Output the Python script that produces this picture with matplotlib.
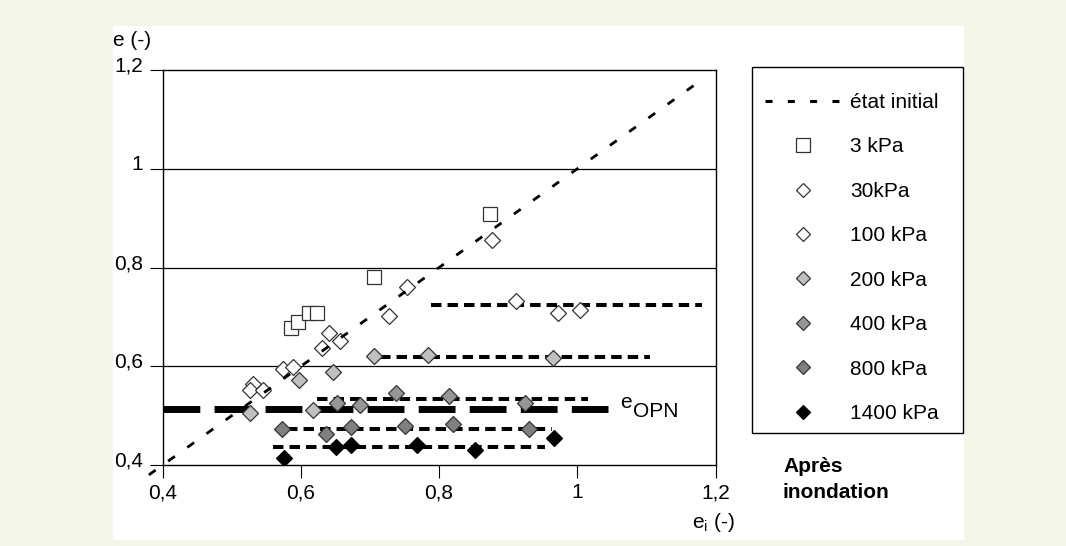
import matplotlib
matplotlib.use('Agg')
import matplotlib.pyplot as plt
from matplotlib.lines import Line2D
from matplotlib.patches import Rectangle
import matplotlib.transforms as mtransforms

plt.rcParams['font.family'] = ['Liberation Sans', 'DejaVu Sans']

W, H, DPI = 1066, 546, 100

# ---------------- data ----------------
diag_x = [0.38, 1.175]
diag_y = [0.38, 1.175]

kpa3_x = [0.586, 0.596, 0.611, 0.623, 0.706, 0.874]
kpa3_y = [0.677, 0.690, 0.708, 0.708, 0.780, 0.908]

kpa30_x = [0.877, 0.753, 0.728, 0.640, 0.657, 0.630, 0.574, 0.588, 0.531, 0.526, 0.545]
kpa30_y = [0.856, 0.761, 0.702, 0.668, 0.652, 0.636, 0.594, 0.598, 0.565, 0.552, 0.552]

kpa100_x = [0.912, 0.972, 1.004]
kpa100_y = [0.733, 0.707, 0.713]

kpa200_x = [0.706, 0.784, 0.647, 0.597, 0.526, 0.617, 0.965]
kpa200_y = [0.621, 0.623, 0.589, 0.572, 0.506, 0.511, 0.616]

kpa400_x = [0.737, 0.815, 0.652, 0.685, 0.925]
kpa400_y = [0.546, 0.540, 0.525, 0.522, 0.525]

kpa800_x = [0.572, 0.636, 0.672, 0.751, 0.820, 0.930]
kpa800_y = [0.472, 0.462, 0.476, 0.478, 0.484, 0.472]

kpa1400_x = [0.575, 0.651, 0.672, 0.768, 0.852, 0.966]
kpa1400_y = [0.414, 0.437, 0.441, 0.441, 0.430, 0.454]

avg_level = [0.724, 0.619, 0.534, 0.473, 0.436]
avg_start = [0.788, 0.714, 0.623, 0.580, 0.559]
avg_end = [1.180, 1.105, 1.015, 0.963, 0.953]

eopn_level = 0.514
eopn_start = 0.40
eopn_end = 1.045

ticks = [0.4, 0.6, 0.8, 1.0, 1.2]
tick_labels = ['0,4', '0,6', '0,8', '1', '1,2']

legend_labels = ['état initial', '3 kPa', '30kPa', '100 kPa', '200 kPa',
                 '400 kPa', '800 kPa', '1400 kPa']

# ---------------- figure ----------------
fig = plt.figure(figsize=(W / DPI, H / DPI), dpi=DPI)
fig.patch.set_facecolor('#f3f6e9')

def fx(px):
    return px / W

def fy(py):
    return 1 - py / H

# white panel
fig.patches.append(Rectangle((fx(113), fy(540)), fx(964) - fx(113), fy(26) - fy(540),
                             transform=fig.transFigure, facecolor='white',
                             edgecolor='none', zorder=-10))

L, R, T, B = 162.7, 715.5, 70, 465
ax = fig.add_axes([fx(L), fy(B), fx(R) - fx(L), fy(T) - fy(B)])
ax.set_facecolor('white')
ax.set_xlim(0.4, 1.2)
ax.set_ylim(0.4, 1.2)

for s in ax.spines.values():
    s.set_linewidth(1.0)
    s.set_color('black')

ax.set_xticks(ticks)
ax.set_xticklabels(tick_labels)
ax.set_yticks(ticks)
ax.set_yticklabels(tick_labels)
ax.tick_params(direction='out', length=9.5, width=0.8, labelsize=15, pad=3.5)
ax.tick_params(axis='y', pad=4.5)

# shift y tick labels up a bit (as in reference)
off = mtransforms.ScaledTranslation(0, 6 / DPI, fig.dpi_scale_trans)
for lab in ax.get_yticklabels():
    lab.set_transform(lab.get_transform() + off)

for yv in ticks[1:4]:
    ax.axhline(yv, color='black', lw=0.9, zorder=1)

edge = '#333333'
mew = 0.9
ms_d = 8.0

# e_OPN line
ax.plot([eopn_start, eopn_end], [eopn_level, eopn_level], color='black', lw=5.0,
        dashes=(5.3, 2.05), dash_capstyle='butt', solid_capstyle='butt', zorder=2)

# average horizontal lines
for lv, xs, xe in zip(avg_level, avg_start, avg_end):
    ax.plot([xs, xe], [lv, lv], color='black', lw=2.9, dashes=(2.6, 1.5),
            dash_capstyle='butt', zorder=2)

# markers
ax.plot(kpa3_x, kpa3_y, ls='none', marker='s', ms=10, mfc='white', mec=edge, mew=mew, zorder=3)
ax.plot(kpa30_x, kpa30_y, ls='none', marker='D', ms=ms_d, mfc='white', mec=edge, mew=mew, zorder=3)
ax.plot(kpa100_x, kpa100_y, ls='none', marker='D', ms=ms_d, mfc='white', mec=edge, mew=mew, zorder=3)
ax.plot(kpa200_x, kpa200_y, ls='none', marker='D', ms=ms_d, mfc='#c0c0c0', mec=edge, mew=mew, zorder=3)
ax.plot(kpa400_x, kpa400_y, ls='none', marker='D', ms=ms_d, mfc='#969696', mec=edge, mew=mew, zorder=3)
ax.plot(kpa800_x, kpa800_y, ls='none', marker='D', ms=ms_d, mfc='#808080', mec=edge, mew=mew, zorder=3)
ax.plot(kpa1400_x, kpa1400_y, ls='none', marker='D', ms=ms_d, mfc='black', mec='black', mew=mew, zorder=3)

# initial state diagonal
ax.plot(diag_x, diag_y, color='black', lw=2.0, dashes=(3.0, 5.5), clip_on=False, zorder=4)

# e_OPN label
ax.text(1.062, eopn_level + 0.012, 'e', fontsize=15, va='center', ha='left')
ax.text(1.081, eopn_level - 0.006, 'OPN', fontsize=15, va='center', ha='left')

# axis labels
fig.text(fx(113), fy(40), 'e (-)', fontsize=15, ha='left', va='center')
fig.text(fx(735), fy(522), r'$\mathregular{e_i}$ (-)', fontsize=15, ha='right', va='center')

# legend frame
fig.patches.append(Rectangle((fx(752), fy(433)), fx(963) - fx(752), fy(67) - fy(433),
                             transform=fig.transFigure, facecolor='white',
                             edgecolor='black', lw=1.0, zorder=1))

handles = [
    Line2D([], [], color='black', lw=2.2, dashes=(2.3, 5.0)),
    Line2D([], [], ls='none', marker='s', ms=9.5, mfc='white', mec=edge, mew=mew),
    Line2D([], [], ls='none', marker='D', ms=7.3, mfc='white', mec=edge, mew=mew),
    Line2D([], [], ls='none', marker='D', ms=7.3, mfc='white', mec=edge, mew=mew),
    Line2D([], [], ls='none', marker='D', ms=7.3, mfc='#c0c0c0', mec=edge, mew=mew),
    Line2D([], [], ls='none', marker='D', ms=7.3, mfc='#969696', mec=edge, mew=mew),
    Line2D([], [], ls='none', marker='D', ms=7.3, mfc='#808080', mec=edge, mew=mew),
    Line2D([], [], ls='none', marker='D', ms=7.3, mfc='black', mec='black', mew=mew),
]
leg = fig.legend(handles, legend_labels, loc='upper left',
                 bbox_to_anchor=(fx(765), fy(93)), bbox_transform=fig.transFigure,
                 fontsize=15, frameon=False,
                 handlelength=3.6, handletextpad=0.48, labelspacing=1.22,
                 borderpad=0, borderaxespad=0, numpoints=1)
leg.set_zorder(2)

fig.text(fx(783), fy(466), 'Après', fontsize=15, fontweight='bold', ha='left', va='center')
fig.text(fx(783), fy(493), 'inondation', fontsize=15, fontweight='bold', ha='left', va='center')

fig.savefig('out.png', dpi=DPI, facecolor=fig.get_facecolor())
